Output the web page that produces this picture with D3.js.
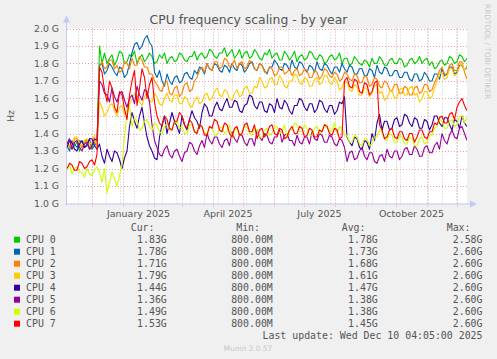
<!DOCTYPE html>
<html><head><meta charset="utf-8">
<script src="https://cdn.jsdelivr.net/npm/d3@7"></script>
<style>body{margin:0;background:#F0F0F0;overflow:hidden}</style>
</head><body>
<script>
// ---------- data ----------
const title = "CPU frequency scaling - by year";
const yAxisLabel = "Hz";
const seriesNames = ["CPU 0","CPU 1","CPU 2","CPU 3","CPU 4","CPU 5","CPU 6","CPU 7"];
const seriesColors = ["#00CC00","#0066B3","#FF8000","#FFCC00","#330099","#990099","#CCFF00","#FF0000"];
const startDate = "2024-11-06";
const endDate = "2025-12-11";
const stepHours = 60;

const cpu0 = [1.34,1.37,1.31,1.33,1.35,1.30,1.33,1.36,1.36,1.31,1.32,1.35,1.34,1.90,
1.80,1.86,1.80,1.83,1.85,1.79,1.82,1.87,1.86,1.80,1.81,1.85,1.84,1.87,1.80,1.83,1.85,1.81,1.83,1.86,
1.84,1.80,1.81,1.85,1.83,1.86,1.80,1.83,1.84,1.81,1.82,1.86,1.85,1.82,1.81,1.84,1.84,1.87,1.82,1.85,
1.86,1.83,1.84,1.88,1.87,1.84,1.83,1.86,1.86,1.89,1.84,1.86,1.88,1.83,1.85,1.88,1.83,1.86,1.87,1.83,
1.84,1.88,1.86,1.83,1.82,1.86,1.85,1.88,1.83,1.85,1.86,1.82,1.82,1.87,1.85,1.82,1.84,1.87,1.81,1.84,
1.85,1.82,1.83,1.87,1.86,1.83,1.82,1.85,1.84,1.80,1.81,1.84,1.85,1.82,1.83,1.86,1.80,1.83,1.83,1.79,
1.80,1.84,1.82,1.80,1.79,1.82,1.81,1.78,1.83,1.80,1.80,1.84,1.82,1.79,1.79,1.82,1.83,1.80,1.80,1.83,
1.82,1.78,1.79,1.82,1.83,1.80,1.81,1.84,1.80,1.82,1.83,1.79,1.81,1.77,1.78,1.81,1.82,1.79,1.80,1.84,
1.83,1.80,1.81,1.85,1.84,1.81,1.83];
const cpu1 = [1.33,1.30,1.36,1.34,1.32,1.36,1.35,1.32,1.34,1.37,1.31,1.33,1.35,1.79,
1.80,1.74,1.76,1.80,1.78,1.75,1.73,1.78,1.77,1.72,1.74,1.80,1.86,1.91,1.92,1.88,1.90,1.94,1.96,1.92,
1.90,1.75,1.72,1.76,1.70,1.67,1.74,1.70,1.68,1.72,1.73,1.69,1.70,1.74,1.75,1.72,1.71,1.76,1.74,1.78,
1.77,1.74,1.80,1.77,1.76,1.80,1.79,1.76,1.75,1.79,1.78,1.75,1.80,1.77,1.76,1.80,1.79,1.75,1.77,1.80,
1.81,1.77,1.76,1.80,1.79,1.76,1.74,1.78,1.78,1.82,1.80,1.77,1.76,1.80,1.79,1.76,1.82,1.78,1.77,1.81,
1.80,1.77,1.75,1.79,1.78,1.75,1.81,1.77,1.76,1.80,1.79,1.76,1.74,1.78,1.78,1.75,1.80,1.77,1.75,1.79,
1.78,1.74,1.74,1.77,1.77,1.73,1.73,1.77,1.76,1.72,1.79,1.75,1.74,1.78,1.77,1.73,1.73,1.76,1.76,1.72,
1.72,1.75,1.75,1.71,1.70,1.74,1.74,1.70,1.71,1.75,1.73,1.70,1.70,1.74,1.74,1.71,1.77,1.73,1.74,1.78,
1.78,1.74,1.75,1.79,1.79,1.76,1.78];
const cpu2 = [1.35,1.32,1.33,1.37,1.37,1.34,1.32,1.35,1.36,1.32,1.34,1.37,1.33,1.78,
1.81,1.77,1.78,1.82,1.82,1.77,1.79,1.75,1.76,1.81,1.80,1.77,1.83,1.79,1.79,1.84,1.82,1.78,1.78,1.74,
1.74,1.70,1.68,1.65,1.64,1.69,1.70,1.63,1.62,1.66,1.67,1.61,1.63,1.68,1.69,1.64,1.65,1.70,1.72,1.76,
1.78,1.75,1.80,1.77,1.76,1.81,1.81,1.77,1.78,1.83,1.82,1.78,1.79,1.82,1.77,1.80,1.81,1.77,1.78,1.82,
1.80,1.77,1.76,1.80,1.79,1.75,1.75,1.78,1.77,1.73,1.74,1.78,1.78,1.74,1.75,1.77,1.73,1.76,1.77,1.73,
1.74,1.77,1.76,1.72,1.72,1.76,1.75,1.71,1.73,1.77,1.76,1.73,1.72,1.75,1.74,1.70,1.71,1.75,1.74,1.71,
1.70,1.74,1.73,1.69,1.69,1.73,1.72,1.67,1.68,1.72,1.71,1.67,1.66,1.70,1.69,1.65,1.64,1.68,1.68,1.63,
1.63,1.67,1.66,1.62,1.62,1.66,1.67,1.63,1.64,1.68,1.68,1.64,1.65,1.69,1.72,1.76,1.78,1.74,1.74,1.79,
1.80,1.76,1.76,1.81,1.81,1.75,1.71];
const cpu3 = [1.36,1.33,1.34,1.38,1.38,1.35,1.33,1.36,1.37,1.34,1.35,1.39,1.32,1.58,
1.55,1.50,1.52,1.56,1.57,1.53,1.50,1.55,1.56,1.51,1.53,1.57,1.59,1.63,1.62,1.58,1.56,1.61,1.64,1.59,
1.58,1.63,1.61,1.57,1.56,1.60,1.63,1.59,1.58,1.62,1.62,1.57,1.57,1.61,1.60,1.56,1.55,1.59,1.61,1.57,
1.58,1.62,1.63,1.59,1.60,1.64,1.66,1.62,1.61,1.65,1.64,1.60,1.59,1.63,1.65,1.61,1.62,1.66,1.67,1.63,
1.63,1.67,1.66,1.72,1.70,1.66,1.67,1.71,1.72,1.68,1.68,1.73,1.71,1.67,1.66,1.70,1.70,1.74,1.73,1.69,
1.68,1.72,1.71,1.67,1.67,1.71,1.72,1.68,1.69,1.73,1.73,1.69,1.68,1.72,1.70,1.65,1.66,1.70,1.69,1.65,
1.64,1.68,1.67,1.62,1.62,1.66,1.66,1.61,1.63,1.67,1.68,1.63,1.64,1.59,1.60,1.64,1.65,1.60,1.61,1.65,
1.66,1.62,1.62,1.66,1.67,1.62,1.63,1.58,1.60,1.64,1.64,1.60,1.61,1.66,1.70,1.74,1.75,1.71,1.72,1.77,
1.77,1.73,1.74,1.78,1.80,1.76,1.79];
const cpu4 = [1.32,1.36,1.35,1.31,1.30,1.34,1.36,1.32,1.33,1.37,1.37,1.33,1.31,1.34,
1.27,1.23,1.31,1.27,1.24,1.30,1.29,1.25,1.20,1.26,1.30,1.44,1.52,1.47,1.43,1.50,1.55,1.46,1.38,1.33,
1.30,1.26,1.25,1.38,1.45,1.50,1.40,1.46,1.52,1.47,1.44,1.40,1.50,1.45,1.42,1.48,1.53,1.49,1.47,1.43,
1.52,1.57,1.55,1.50,1.50,1.55,1.58,1.54,1.53,1.57,1.60,1.55,1.55,1.59,1.58,1.53,1.52,1.56,1.57,1.62,
1.61,1.56,1.54,1.58,1.58,1.53,1.52,1.57,1.56,1.52,1.60,1.55,1.54,1.59,1.57,1.53,1.51,1.56,1.56,1.60,
1.59,1.55,1.53,1.57,1.57,1.52,1.54,1.59,1.58,1.54,1.52,1.56,1.56,1.51,1.53,1.58,1.57,1.61,1.38,1.35,
1.33,1.38,1.37,1.32,1.31,1.36,1.35,1.31,1.40,1.36,1.46,1.51,1.42,1.47,1.47,1.42,1.43,1.48,1.49,1.44,
1.45,1.51,1.50,1.46,1.44,1.49,1.48,1.43,1.43,1.48,1.47,1.42,1.45,1.50,1.50,1.46,1.44,1.49,1.49,1.45,
1.42,1.48,1.47,1.43,1.50,1.46,1.44];
const cpu5 = [1.34,1.37,1.31,1.35,1.36,1.32,1.30,1.34,1.35,1.31,1.33,1.37,1.36,1.70,
1.68,1.63,1.62,1.58,1.66,1.61,1.58,1.63,1.64,1.59,1.55,1.60,1.62,1.57,1.67,1.62,1.59,1.65,1.64,1.58,
1.45,1.36,1.32,1.28,1.27,1.31,1.33,1.28,1.26,1.30,1.31,1.27,1.24,1.29,1.30,1.35,1.34,1.30,1.28,1.33,
1.36,1.32,1.40,1.36,1.34,1.38,1.38,1.34,1.32,1.36,1.37,1.33,1.41,1.37,1.35,1.39,1.39,1.35,1.33,1.37,
1.37,1.33,1.42,1.38,1.36,1.40,1.39,1.35,1.34,1.38,1.38,1.42,1.35,1.39,1.40,1.36,1.36,1.33,1.39,1.35,
1.34,1.38,1.38,1.34,1.41,1.37,1.36,1.40,1.39,1.35,1.35,1.39,1.38,1.34,1.33,1.37,1.36,1.32,1.24,1.29,
1.30,1.25,1.26,1.30,1.32,1.27,1.25,1.29,1.29,1.24,1.23,1.27,1.28,1.24,1.31,1.27,1.26,1.30,1.30,1.25,
1.27,1.31,1.32,1.28,1.28,1.33,1.31,1.27,1.27,1.32,1.33,1.29,1.29,1.33,1.35,1.31,1.40,1.36,1.34,1.39,
1.42,1.38,1.37,1.43,1.44,1.40,1.36];
const cpu6 = [1.19,1.22,1.17,1.20,1.21,1.18,1.18,1.15,1.20,1.17,1.16,1.19,1.21,1.18,
1.12,1.20,1.06,1.12,1.18,1.14,1.10,1.16,1.22,1.38,1.52,1.56,1.44,1.49,1.47,1.42,1.43,1.47,1.48,1.44,
1.42,1.46,1.45,1.41,1.40,1.44,1.46,1.42,1.42,1.46,1.47,1.43,1.44,1.40,1.40,1.45,1.45,1.41,1.41,1.45,
1.44,1.40,1.40,1.44,1.43,1.39,1.39,1.43,1.44,1.40,1.41,1.45,1.37,1.42,1.43,1.39,1.40,1.44,1.44,1.40,
1.39,1.43,1.42,1.38,1.38,1.42,1.43,1.39,1.40,1.44,1.44,1.40,1.41,1.45,1.38,1.42,1.42,1.46,1.45,1.41,
1.41,1.45,1.43,1.39,1.39,1.43,1.44,1.40,1.41,1.45,1.45,1.41,1.42,1.46,1.40,1.44,1.43,1.39,1.39,1.35,
1.35,1.39,1.38,1.34,1.33,1.37,1.37,1.33,1.34,1.38,1.38,1.42,1.41,1.37,1.36,1.40,1.39,1.35,1.35,1.39,
1.38,1.34,1.34,1.38,1.37,1.33,1.33,1.37,1.38,1.34,1.35,1.39,1.39,1.43,1.44,1.48,1.47,1.43,1.43,1.47,
1.48,1.44,1.45,1.50,1.50,1.46,1.49];
const cpu7 = [1.20,1.23,1.22,1.19,1.19,1.24,1.23,1.20,1.21,1.24,1.25,1.22,1.28,1.78,
1.75,1.65,1.58,1.70,1.66,1.55,1.52,1.64,1.62,1.54,1.48,1.62,1.70,1.76,1.56,1.66,1.77,1.72,1.60,1.68,
1.72,1.58,1.50,1.46,1.44,1.50,1.48,1.43,1.42,1.47,1.47,1.52,1.50,1.45,1.43,1.48,1.46,1.41,1.40,1.45,
1.44,1.39,1.39,1.44,1.43,1.48,1.47,1.42,1.41,1.46,1.45,1.40,1.38,1.43,1.44,1.39,1.40,1.45,1.46,1.41,
1.41,1.45,1.37,1.42,1.43,1.38,1.40,1.44,1.45,1.40,1.39,1.43,1.42,1.37,1.38,1.42,1.44,1.40,1.40,1.44,
1.43,1.38,1.39,1.43,1.42,1.38,1.38,1.42,1.41,1.45,1.44,1.40,1.39,1.43,1.42,1.37,1.38,1.70,1.72,1.67,
1.66,1.71,1.70,1.64,1.63,1.69,1.68,1.62,1.64,1.69,1.70,1.45,1.42,1.37,1.38,1.42,1.43,1.38,1.37,1.41,
1.41,1.37,1.36,1.40,1.40,1.35,1.38,1.42,1.42,1.38,1.37,1.41,1.41,1.46,1.45,1.49,1.50,1.46,1.46,1.51,
1.52,1.48,1.55,1.58,1.60,1.56,1.53];
const seriesValues = [cpu0,cpu1,cpu2,cpu3,cpu4,cpu5,cpu6,cpu7];

const yTicks = [1.0,1.1,1.2,1.3,1.4,1.5,1.6,1.7,1.8,1.9,2.0];
const yTickLabels = ["1.0 G","1.1 G","1.2 G","1.3 G","1.4 G","1.5 G","1.6 G","1.7 G","1.8 G","1.9 G","2.0 G"];
const xLabelMonths = ["2025-01-01","2025-04-01","2025-07-01","2025-10-01"];
const xLabels = ["January 2025","April 2025","July 2025","October 2025"];
const minorGridStart = "2024-11-17";
const minorGridStepDays = 14;

const legendHeaders = ["Cur:","Min:","Avg:","Max:"];
const curVals = ["1.83G","1.78G","1.71G","1.79G","1.44G","1.36G","1.49G","1.53G"];
const minVals = ["800.00M","800.00M","800.00M","800.00M","800.00M","800.00M","800.00M","800.00M"];
const avgVals = ["1.78G","1.73G","1.68G","1.61G","1.47G","1.38G","1.38G","1.45G"];
const maxVals = ["2.58G","2.60G","2.60G","2.60G","2.60G","2.60G","2.60G","2.60G"];
const lastUpdate = "Last update: Wed Dec 10 04:05:00 2025";
const watermark = "RRDTOOL / TOBI OETIKER";
const footer = "Munin 2.0.57";

// ---------- drawing ----------
const W = 497, H = 359;
const L = 67, R = 467, T = 28.5, B = 203.5;
const axisColor = "#c4c8f4";
const textColor = "#555555";
const sans = "'DejaVu Sans', sans-serif";
const mono = "'DejaVu Sans Mono', monospace";

const svg = d3.select("body").append("svg").attr("width", W).attr("height", H)
  .style("display","block");
svg.append("rect").attr("width", W).attr("height", H).attr("fill", "#F0F0F0");

const parse = d3.utcParse("%Y-%m-%d");
const t0 = parse(startDate), t1 = parse(endDate);
const x = d3.scaleUtc().domain([t0, t1]).range([L, R]);
const y = d3.scaleLinear().domain([1.0, 2.0]).range([B, T]);
const dates = d3.utcHour.range(t0, d3.utcHour.offset(t1, 1), stepHours);

svg.append("rect").attr("x", L).attr("y", T).attr("width", R - L).attr("height", B - T).attr("fill", "#ffffff");

// grid
const minorDates = d3.utcDay.range(parse(minorGridStart), t1, minorGridStepDays);
const monthDates = d3.utcMonth.range(d3.utcMonth.ceil(t0), t1);
const grid = svg.append("g");
grid.selectAll(".mg").data(minorDates).join("line")
  .attr("x1", d => Math.round(x(d)) + 0.5).attr("x2", d => Math.round(x(d)) + 0.5)
  .attr("y1", T).attr("y2", B + 1)
  .attr("stroke", "#c8c8c8").attr("stroke-dasharray", "1,2").attr("stroke-width", 1);
grid.selectAll(".hg").data(yTicks.slice(1)).join("line")
  .attr("x1", L).attr("x2", R + 1)
  .attr("y1", d => Math.round(y(d)) + 0.5).attr("y2", d => Math.round(y(d)) + 0.5)
  .attr("stroke", "#eba0a0").attr("stroke-dasharray", "1,2");
grid.selectAll(".vg").data(monthDates).join("line")
  .attr("x1", d => Math.round(x(d)) + 0.5).attr("x2", d => Math.round(x(d)) + 0.5)
  .attr("y1", T).attr("y2", B + 3)
  .attr("stroke", "#eba0a0").attr("stroke-dasharray", "1,2");

// series
svg.append("clipPath").attr("id", "clip").append("rect")
  .attr("x", L).attr("y", T - 2).attr("width", R - L).attr("height", B - T + 2);
const line = d3.line().x((d, i) => x(dates[i])).y(d => y(d));
const lines = svg.append("g").attr("clip-path", "url(#clip)");
seriesValues.forEach((vals, k) => {
  lines.append("path").datum(vals).attr("d", line)
    .attr("fill", "none").attr("stroke", seriesColors[k]).attr("stroke-width", 1.1)
    .attr("stroke-linejoin", "round");
});

// axes
const ax = svg.append("g");
ax.append("line").attr("x1", L - 0.5).attr("x2", L - 0.5).attr("y1", B + 2).attr("y2", T - 8)
  .attr("stroke", axisColor);
ax.append("path").attr("d", `M${L - 4},${T - 6} L${L - 0.5},${T - 13} L${L + 3},${T - 6} Z`).attr("fill", axisColor);
ax.append("line").attr("x1", L - 2).attr("x2", R + 5).attr("y1", B + 0.5).attr("y2", B + 0.5)
  .attr("stroke", axisColor);
ax.append("path").attr("d", `M${R + 3},${B - 3} L${R + 10},${B + 0.5} L${R + 3},${B + 4} Z`).attr("fill", axisColor);

// y labels
svg.append("g").selectAll("text").data(yTicks).join("text")
  .attr("x", 59).attr("y", d => y(d) + 3.4)
  .attr("text-anchor", "end").attr("font-family", sans).attr("font-size", 9.3)
  .attr("fill", textColor).text((d, i) => yTickLabels[i]);

// x labels, centered in their month
svg.append("g").selectAll("text").data(xLabelMonths).join("text")
  .attr("x", d => { const m = parse(d); return (x(m) + x(d3.utcMonth.offset(m, 1))) / 2; })
  .attr("y", 216.5).attr("text-anchor", "middle")
  .attr("font-family", sans).attr("font-size", 9.5).attr("fill", textColor)
  .text((d, i) => xLabels[i]);

// title
svg.append("text").attr("x", 248.5).attr("y", 24.3).attr("text-anchor", "middle")
  .attr("font-family", sans).attr("font-size", 12.4).attr("fill", textColor).text(title);

// y axis title
svg.append("text").attr("transform", "translate(13.5,116) rotate(-90)")
  .attr("text-anchor", "middle").attr("font-family", sans).attr("font-size", 9.5)
  .attr("fill", textColor).text(yAxisLabel);

// watermark
svg.append("text").attr("transform", "translate(484.5,4) rotate(90)")
  .attr("font-family", sans).attr("font-size", 7.4).attr("fill", "#c8c8c8").text(watermark);

// legend
const lg = svg.append("g").attr("font-family", mono).attr("font-size", 9.9).attr("fill", textColor);
const headerX = [154.5, 260, 365.5, 470.5];
const valueX = [166.8, 272.8, 377.8, 482.5];
legendHeaders.forEach((h, j) => {
  lg.append("text").attr("x", headerX[j]).attr("y", 230.7).attr("text-anchor", "end").text(h);
});
const cols = [curVals, minVals, avgVals, maxVals];
seriesNames.forEach((name, k) => {
  const by = 242.7 + k * 12;
  lg.append("rect").attr("x", 14).attr("y", by - 6).attr("width", 6).attr("height", 6)
    .attr("fill", seriesColors[k]);
  lg.append("text").attr("x", 26).attr("y", by).text(name);
  cols.forEach((c, j) => {
    lg.append("text").attr("x", valueX[j]).attr("y", by).attr("text-anchor", "end").text(c[k]);
  });
});
lg.append("text").attr("x", 482.5).attr("y", 338.7).attr("text-anchor", "end").text(lastUpdate);

svg.append("text").attr("x", 248).attr("y", 351).attr("text-anchor", "middle")
  .attr("font-family", sans).attr("font-size", 7.4).attr("fill", "#c8c8c8").text(footer);
</script>
</body></html>
